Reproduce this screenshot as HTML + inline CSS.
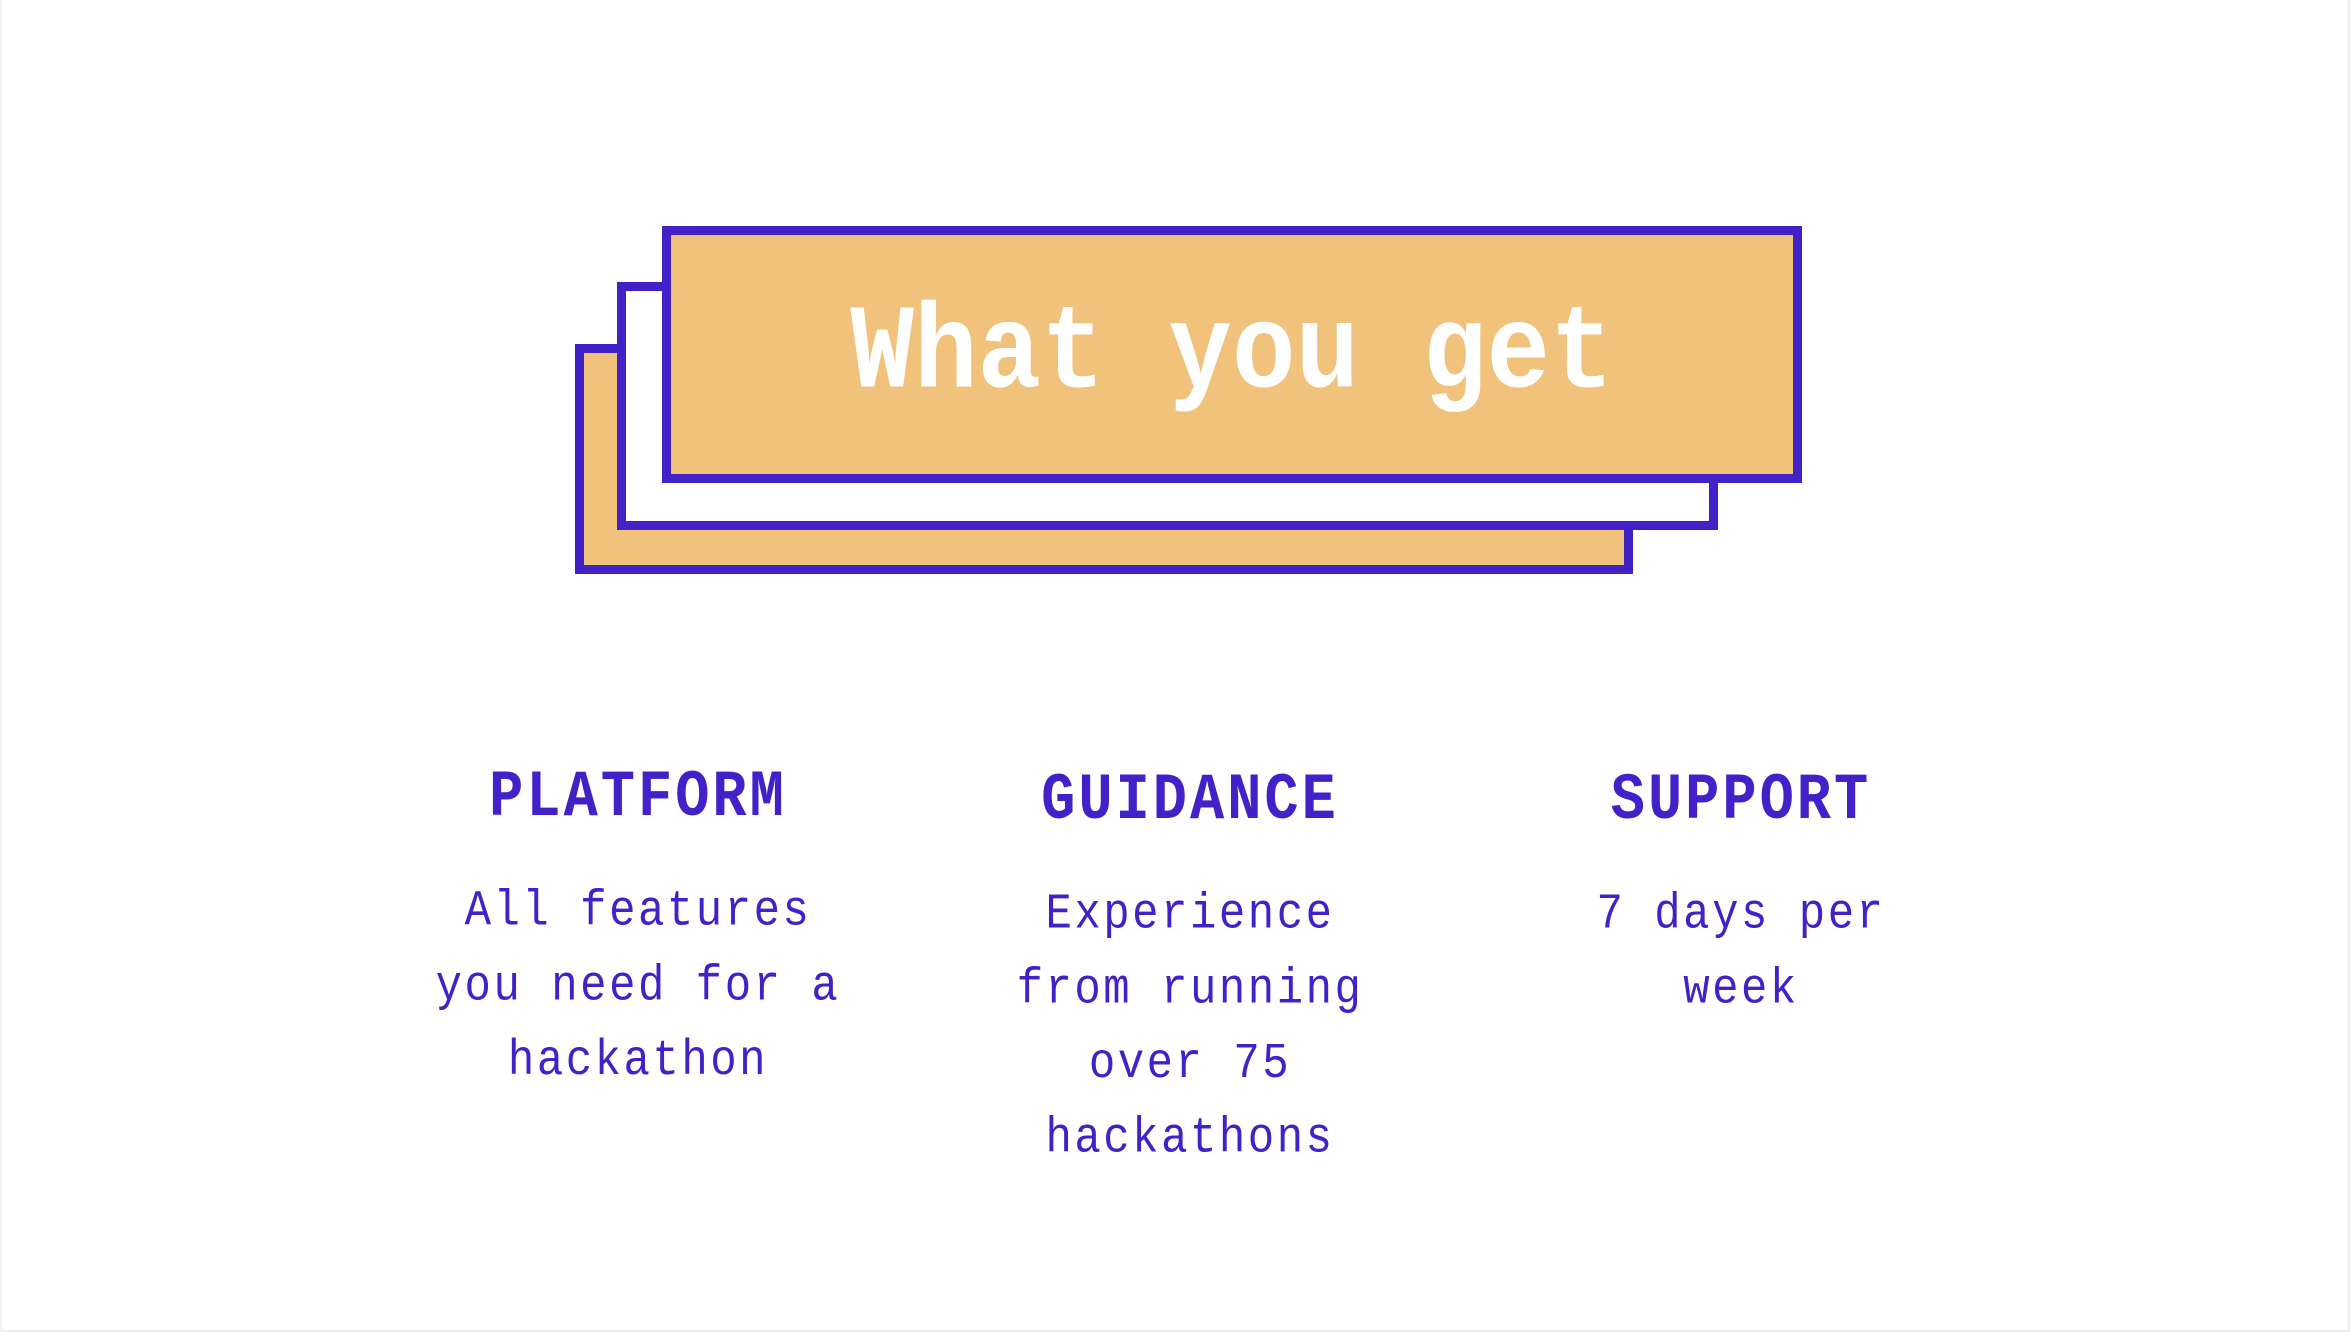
<!DOCTYPE html>
<html><head><meta charset="utf-8"><style>
html,body{margin:0;padding:0;}
body{width:2350px;height:1332px;position:relative;background:#fff;overflow:hidden;font-family:"Liberation Mono",monospace;}
.b{position:absolute;box-sizing:border-box;border:9px solid #4321c9;}
.t{position:absolute;white-space:nowrap;text-align:center;color:#4321c9;}
.h{font-weight:bold;font-size:57px;letter-spacing:3px;line-height:62px;width:600px;transform:scaleY(1.15);}
.p{font-size:44px;letter-spacing:2.5px;line-height:66px;width:600px;transform:scaleY(1.13);transform-origin:50% 0;}
</style></head><body>
<div style="position:absolute;right:0;top:0;width:2px;height:1332px;background:#ececec"></div>
<div style="position:absolute;left:0;bottom:0;width:2350px;height:2px;background:#ececec"></div>
<div style="position:absolute;left:0;top:0;width:2px;height:1332px;background:#f2f2f2"></div>
<div class="b" style="left:575px;top:344px;width:1058px;height:230px;background:#f0c27b"></div>
<div class="b" style="left:617px;top:282px;width:1101px;height:248px;background:#fff"></div>
<div class="b" style="left:662px;top:226px;width:1140px;height:257px;background:#f0c27b"></div>
<div class="t" style="left:662px;top:290px;width:1140px;font-size:106px;font-weight:bold;color:#fff;line-height:130px;transform:scaleY(1.13);">What you get</div>
<div class="t h" style="left:338px;top:768px;">PLATFORM</div>
<div class="t h" style="left:890px;top:771px;">GUIDANCE</div>
<div class="t h" style="left:1441px;top:771px;">SUPPORT</div>
<div class="t p" style="left:338px;top:875px;">All features<br>you need for a<br>hackathon</div>
<div class="t p" style="left:890px;top:878px;">Experience<br>from running<br>over 75<br>hackathons</div>
<div class="t p" style="left:1441px;top:878px;">7 days per<br>week</div>
</body></html>
